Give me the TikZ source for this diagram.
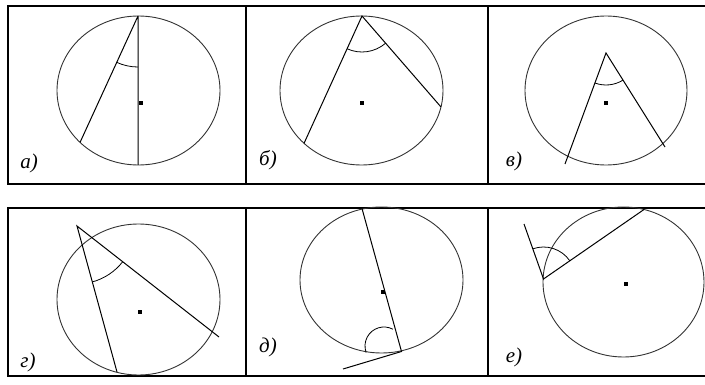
\documentclass[tikz,border=0pt]{standalone}
\usepackage{fontspec}
\setmainfont{Liberation Serif}
\usetikzlibrary{calc}

\begin{document}
\begin{tikzpicture}[x=1pt,y=-1pt,
  rim/.style={line width=.9pt,black!80},chord/.style={line width=1pt},anglearc/.style={line width=.8pt},
  panel/.style={line width=1.1pt},centredot/.style={fill,inner sep=0pt,minimum size=3.2pt},
  lbl/.style={font=\fontsize{21}{23}\selectfont\itshape}]
\useasboundingbox(0,0)rectangle(705,385);
\draw[panel](705,6)-|(8,184)--(705,184)(246,6)--(246,184)(488,6)--(488,184);
\draw[panel](705,208)-|(8,376)--(705,376)(246,208)--(246,376)(488,208)--(488,376);
% a
\draw[rim](138.5,90.5)ellipse[x radius=81.5,y radius=74.5];
\coordinate(a1)at(138,16);\coordinate(a2)at(138,165);\coordinate(a3)at(80,142.5);
\draw[chord](a1)--(a2)(a1)--(a3);
\draw[anglearc]($(a1)+(90:51)$)arc[start angle=90,end angle=114.6,radius=51];
\node[centredot](ao)at(141,103){};\node[lbl](al)at(29,163){а)};
% b
\draw[rim](361.5,90.5)ellipse[x radius=81.5,y radius=74.5];
\coordinate(b1)at(362,16);\coordinate(b2)at(304,143.4);\coordinate(b3)at(441,107);
\draw[chord](b2)--(b1)--(b3);
\draw[anglearc]($(b1)+(49:36)$)arc[start angle=49,end angle=114.5,radius=36];
\node[centredot](bo)at(362,103){};\node[lbl](bl)at(268,160){б)};
% v
\draw[rim](606,90.5)ellipse[x radius=81,y radius=74.5];
\coordinate(v1)at(606,53);\coordinate(v2)at(565,164);\coordinate(v3)at(665,147);
\draw[chord](v2)--(v1)--(v3);
\draw[anglearc]($(v1)+(57.9:32)$)arc[start angle=57.9,end angle=110.3,radius=32];
\node[centredot](vo)at(606,103){};\node[lbl](vl)at(514,161){в)};
% g
\draw[rim](138.5,299.5)ellipse[x radius=81.5,y radius=75.5];
\coordinate(g1)at(77,226);\coordinate(g2)at(117,372);\coordinate(g3)at(219,337);
\draw[chord](g2)--(g1)--(g3);
\draw[anglearc]($(g1)+(38:58)$)arc[start angle=38,end angle=74.7,radius=58];
\node[centredot](go)at(140,312){};\node[lbl](gl)at(28,362){г)};
% d
\draw[rim](381.5,280)ellipse[x radius=81.5,y radius=73];
\coordinate(d1)at(362,208.5);\coordinate(d2)at(401.5,351.5);\coordinate(d3)at(343,369);\coordinate(dc)at(384,346);
\draw[chord](d1)--(d2)--(d3);
\draw[anglearc]($(dc)+(-62:19)$)arc[start angle=-62,end angle=-200,radius=19];
\node[centredot](do)at(383,292){};\node[lbl](dl)at(268,347){д)};
% e
\draw[rim](623.5,282)ellipse[x radius=80.5,y radius=75];
\coordinate(e1)at(543.5,279);\coordinate(e2)at(524,224);\coordinate(e3)at(644,209.5);
\draw[chord](e2)--(e1)--(e3);
\draw[anglearc]($(e1)+(-109.5:32)$)arc[start angle=-109.5,end angle=-34.7,radius=32];
\node[centredot](eo)at(626,284){};\node[lbl](el)at(514,357){е)};
\end{tikzpicture}
\end{document}
